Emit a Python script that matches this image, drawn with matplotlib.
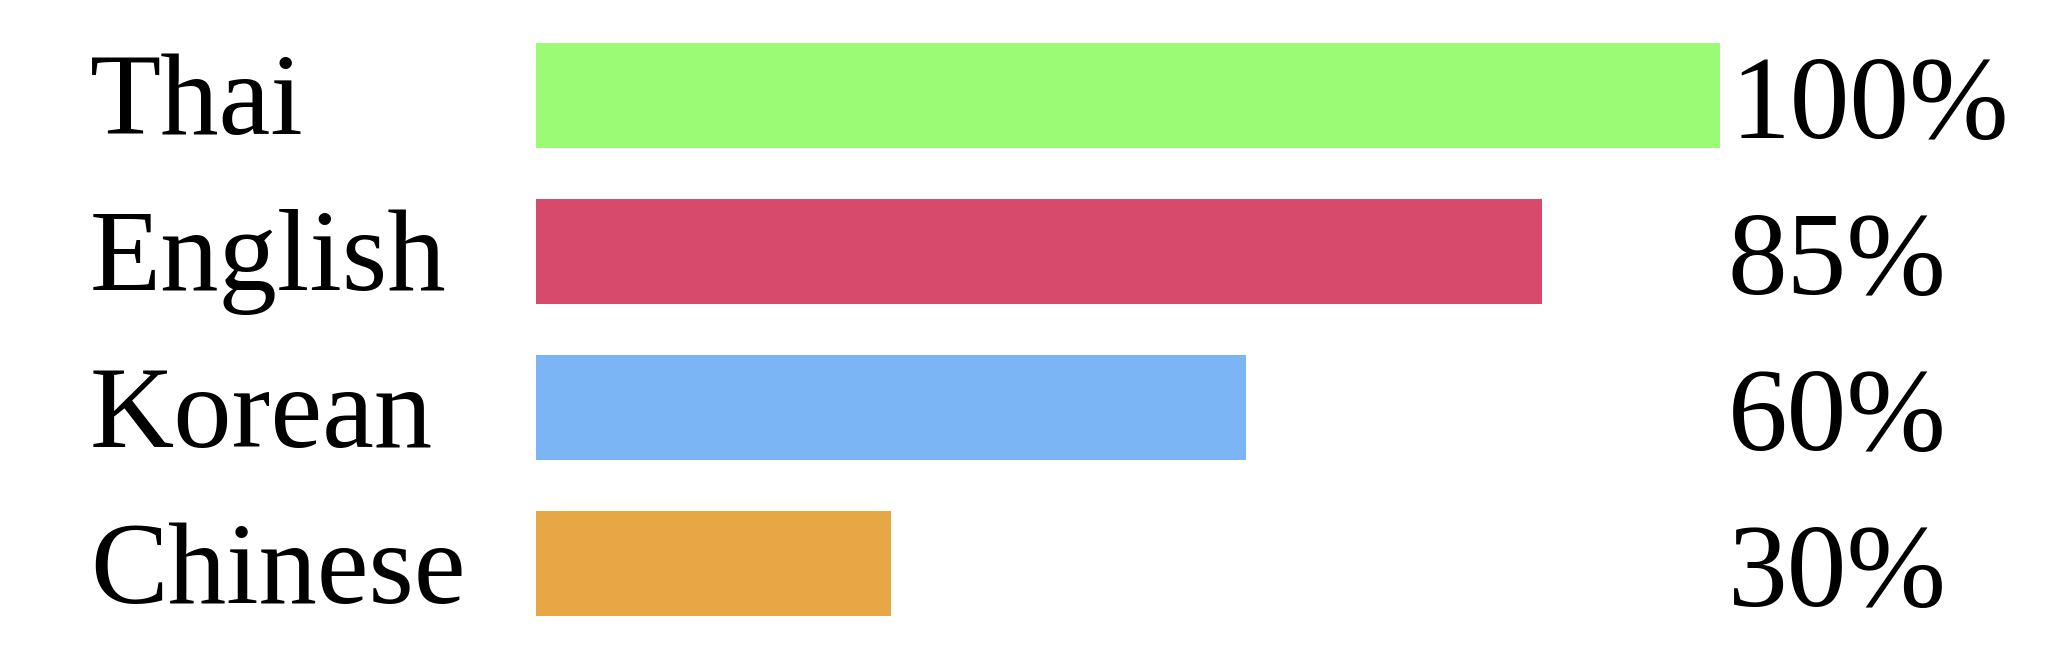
import matplotlib.pyplot as plt
import matplotlib.transforms as mtrans

languages = ['Thai', 'English', 'Korean', 'Chinese']
values = [100, 85, 60, 30]
pct_labels = ['100%', '85%', '60%', '30%']
colors = ['#9cfb74', '#d84a6c', '#7bb5f6', '#e6a744']

fig = plt.figure(figsize=(20.48, 6.54), dpi=100)
ax = fig.add_axes([0.2615, 0.0, 0.5784, 1.0])
y = list(range(len(languages)))
ax.barh(y, values, height=0.67, color=colors)
ax.set_xlim(0, 100)
ax.set_ylim(3.579, -0.612)
ax.axis('off')

tr = mtrans.blended_transform_factory(fig.transFigure, ax.transData)
for i, (lab, pct) in enumerate(zip(languages, pct_labels)):
    ax.text(0.044, i + 0.07, lab, transform=tr, ha='left', va='center',
            family='Liberation Serif', fontsize=84)
    ax.text(0.913 if i == 0 else 0.897, i + 0.09, pct, transform=tr,
            ha='center', va='center', family='Liberation Serif', fontsize=86)

fig.savefig('out.png', dpi=100, facecolor='white')
